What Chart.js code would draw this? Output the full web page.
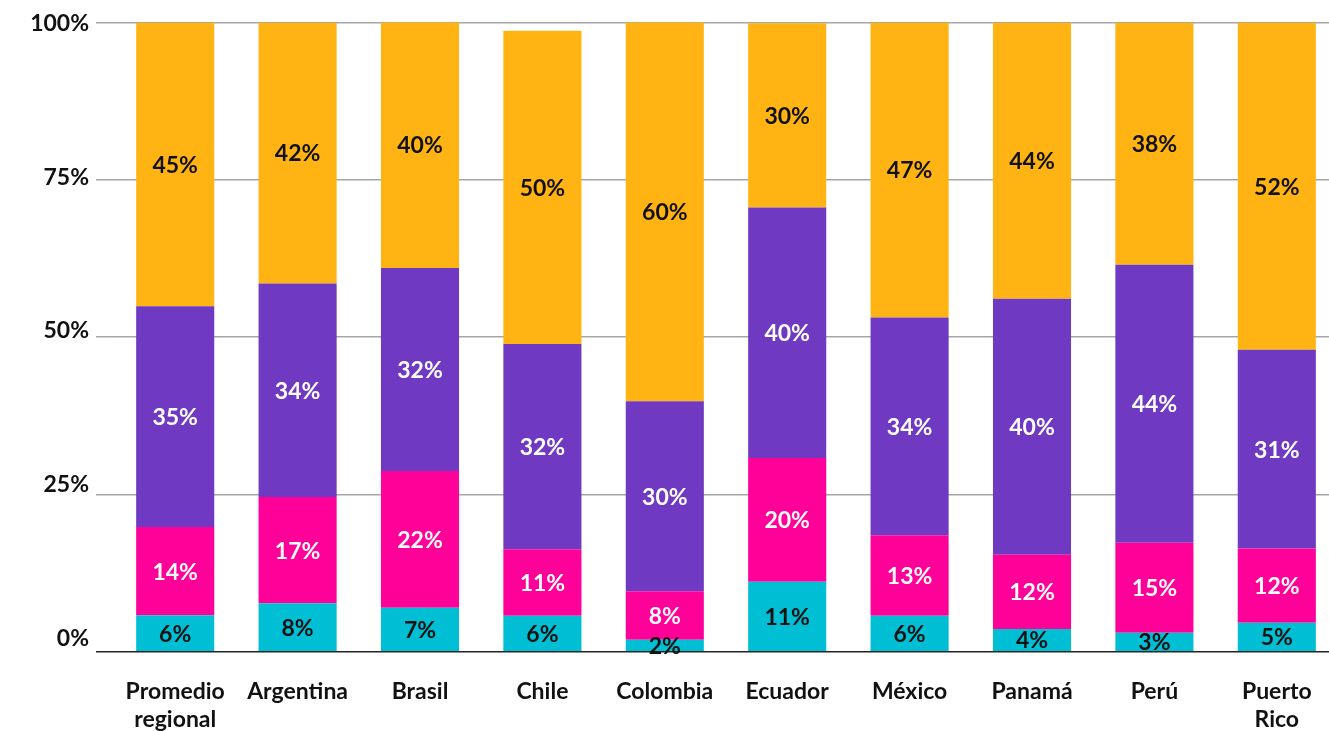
<!DOCTYPE html>
<html>
<head>
<meta charset="utf-8">
<script src="https://cdn.jsdelivr.net/npm/chart.js@4.4.1/dist/chart.umd.min.js"></script>
<style>
  html, body { margin: 0; padding: 0; background: #ffffff; overflow: hidden; }
  #wrap { width: 1329px; height: 731px; overflow: hidden; position: relative; }
  canvas { display: block; }
</style>
</head>
<body>
<div id="wrap"><canvas id="c" width="1338" height="731"></canvas></div>
<script>
// Categories (x axis)
const categories = [
  ['Promedio', 'regional'], 'Argentina', 'Brasil', 'Chile', 'Colombia',
  'Ecuador', 'México', 'Panamá', 'Perú', ['Puerto', 'Rico']
];

// Segment heights as drawn (percent of total), bottom to top
const cyanValues    = [5.8, 7.7, 7.0, 5.7, 1.9, 11.1, 5.7, 3.6, 3.0, 4.6];
const magentaValues = [14.0, 16.9, 21.7, 10.6, 7.7, 19.7, 12.8, 11.8, 14.3, 11.8];
const purpleValues  = [35.1, 33.9, 32.3, 32.6, 30.2, 39.8, 34.6, 40.7, 44.2, 31.6];
const orangeValues  = [45.1, 41.5, 39.1, 49.8, 60.3, 29.3, 46.9, 43.9, 38.5, 52.0];

// Printed value labels
const cyanLabels    = [6, 8, 7, 6, 2, 11, 6, 4, 3, 5];
const magentaLabels = [14, 17, 22, 11, 8, 20, 13, 12, 15, 12];
const purpleLabels  = [35, 34, 32, 32, 30, 40, 34, 40, 44, 31];
const orangeLabels  = [45, 42, 40, 50, 60, 30, 47, 44, 38, 52];

// Y tick values
const yTicks = [0, 25, 50, 75, 100];

const FONT = 'Lato, "Open Sans", sans-serif';

const segmentLabels = {
  id: 'segmentLabels',
  afterDatasetsDraw(chart) {
    const ctx = chart.ctx;
    ctx.save();
    ctx.textAlign = 'center';
    ctx.textBaseline = 'middle';
    ctx.font = 'bold 23px ' + FONT;
    chart.data.datasets.forEach((ds, di) => {
      const meta = chart.getDatasetMeta(di);
      meta.data.forEach((bar, i) => {
        const p = bar.getProps(['x', 'y', 'base'], true);
        ctx.fillStyle = ds.labelColor;
        ctx.fillText(ds.valueLabels[i] + '%', p.x, (p.y + p.base) / 2 + 1);
      });
    });
    ctx.restore();
  }
};

new Chart(document.getElementById('c'), {
  type: 'bar',
  data: {
    labels: categories,
    datasets: [
      { label: 'c', data: cyanValues, backgroundColor: '#00BED3', valueLabels: cyanLabels, labelColor: '#111111' },
      { label: 'm', data: magentaValues, backgroundColor: '#FF0099', valueLabels: magentaLabels, labelColor: '#ffffff' },
      { label: 'p', data: purpleValues, backgroundColor: '#6F3AC1', valueLabels: purpleLabels, labelColor: '#ffffff' },
      { label: 'o', data: orangeValues, backgroundColor: '#FFB414', valueLabels: orangeLabels, labelColor: '#111111' }
    ]
  },
  options: {
    responsive: false,
    animation: false,
    events: [],
    layout: { padding: { top: 22.5, right: 0, left: 0, bottom: 0 } },
    datasets: { bar: { categoryPercentage: 1.0, barPercentage: 0.638, borderWidth: 0 } },
    plugins: { legend: { display: false }, tooltip: { enabled: false } },
    scales: {
      x: {
        stacked: true,
        grid: { display: false, drawTicks: false },
        border: { display: false },
        ticks: {
          color: '#111111',
          font: { family: FONT, size: 23, weight: 'bold', lineHeight: 1.22 },
          padding: 26,
          maxRotation: 0,
          autoSkip: false
        },
        afterFit(scale) { scale.height = 79.3; }
      },
      y: {
        stacked: true,
        min: 0,
        max: 100,
        weight: 0,
        afterBuildTicks(scale) { scale.ticks = yTicks.map(v => ({ value: v })); },
        grid: {
          color: (c) => (c.tick && c.tick.value === 0) ? '#222222' : '#a6a6a6',
          lineWidth: 1.5,
          drawTicks: true,
          tickLength: 18
        },
        border: { display: false },
        ticks: { display: false },
        afterFit(scale) { scale.width = 18; }
      },
      yLabels: {
        position: 'left',
        weight: 1,
        min: -2.15,
        max: 100.16,
        afterBuildTicks(scale) { scale.ticks = yTicks.map(v => ({ value: v })); },
        grid: { display: false, drawTicks: false },
        border: { display: false },
        ticks: {
          color: '#111111',
          font: { family: FONT, size: 23, weight: 'bold' },
          padding: 7,
          callback: (v) => v + '%'
        },
        afterFit(scale) { scale.width = 96; }
      }
    }
  },
  plugins: [segmentLabels]
});
</script>
</body>
</html>
